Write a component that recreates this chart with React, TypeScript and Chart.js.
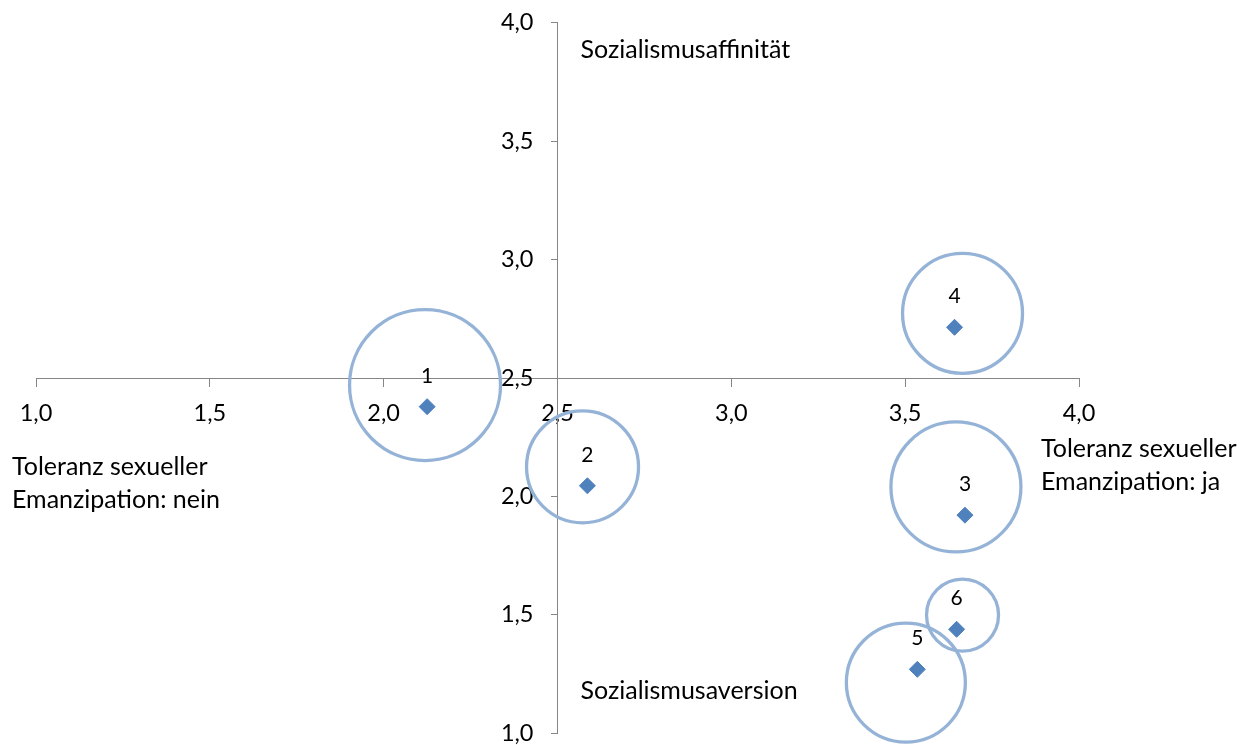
import React, { useEffect, useRef } from "react";
import { Chart, registerables } from "chart.js";

Chart.register(...registerables);

// ---- data ----
const groupLabels = ["1", "2", "3", "4", "5", "6"];
const meanX = [2.125, 2.586, 3.672, 3.642, 3.535, 3.648];
const meanY = [2.379, 2.045, 1.921, 2.714, 1.27, 1.439];
const circleX = [2.119, 2.572, 3.646, 3.665, 3.502, 3.665];
const circleY = [2.47, 2.125, 2.04, 2.773, 1.214, 1.499];
const circleRadius = [75.5, 56, 65, 60, 59.5, 36];

const xMin = 1.0;
const xMax = 4.0;
const yMin = 1.0;
const yMax = 4.0;
const tickStep = 0.5;
const axisCross = 2.5;

const topLabel = "Sozialismusaffinität";
const bottomLabel = "Sozialismusaversion";
const leftLabel = ["Toleranz sexueller", "Emanzipation: nein"];
const rightLabel = ["Toleranz sexueller", "Emanzipation: ja"];

const FONT = "Lato";
const fmt = (v: number) => Number(v).toFixed(1).replace(".", ",");

const Y_TICK_LEN = 6;
const Y_TICK_PAD = 18;

// shift the centred y-axis labels to the left of the axis line
const yLabelShiftPlugin = {
  id: "yLabelShift",
  beforeDraw(chart: any) {
    const s = chart.scales.y;
    const items = s.getLabelItems(chart.chartArea);
    if (!(items as any).__shifted) {
      items.forEach((it: any) => {
        it.options.translation[0] -= Y_TICK_LEN + Y_TICK_PAD;
      });
      (items as any).__shifted = true;
    }
  },
};

const annotationPlugin = {
  id: "annotations",
  afterDatasetsDraw(chart: any) {
    const ctx = chart.ctx;
    const xs = chart.scales.x;
    const area = chart.chartArea;
    ctx.save();
    ctx.fillStyle = "#000000";
    const meta = chart.getDatasetMeta(1);
    ctx.font = `21px ${FONT}`;
    ctx.textAlign = "center";
    ctx.textBaseline = "alphabetic";
    meta.data.forEach((pt: any, i: number) => {
      ctx.fillText(groupLabels[i], pt.x, pt.y - 24);
    });
    ctx.font = `25px ${FONT}`;
    ctx.textAlign = "left";
    const axisX = xs.getPixelForValue(axisCross);
    ctx.fillText(topLabel, axisX + 23, area.top + 35);
    ctx.fillText(bottomLabel, axisX + 23, area.bottom - 34);
    ctx.fillText(leftLabel[0], 12, 475);
    ctx.fillText(leftLabel[1], 12, 508);
    ctx.fillText(rightLabel[0], 1041, 457);
    ctx.fillText(rightLabel[1], 1041, 490);
    ctx.restore();
  },
};

export default function App() {
  const ref = useRef<HTMLCanvasElement | null>(null);
  useEffect(() => {
    if (!ref.current) return;
    const chart = new Chart(ref.current, {
      type: "bubble",
      data: {
        datasets: [
          {
            type: "bubble",
            data: circleX.map((x, i) => ({ x, y: circleY[i], r: circleRadius[i] })),
            backgroundColor: "rgba(0,0,0,0)",
            borderColor: "#95B3D7",
            borderWidth: 3.3,
            clip: false,
          } as any,
          {
            type: "scatter",
            data: meanX.map((x, i) => ({ x, y: meanY[i] })),
            pointStyle: "rectRot",
            pointRadius: 8,
            backgroundColor: "#4F81BD",
            borderColor: "#4F81BD",
            borderWidth: 1,
            clip: false,
          } as any,
        ],
      },
      options: {
        responsive: false,
        animation: false,
        devicePixelRatio: 1,
        layout: { autoPadding: false, padding: { left: 36, right: 180, top: 22.7, bottom: 11.7 } },
        plugins: { legend: { display: false }, tooltip: { enabled: false } },
        scales: {
          x: {
            type: "linear",
            position: { y: axisCross } as any,
            min: xMin,
            max: xMax,
            afterFit: (s: any) => {
              s.height = 0;
              s.paddingLeft = 0;
              s.paddingRight = 0;
              s.paddingTop = 0;
              s.paddingBottom = 0;
            },
            ticks: {
              stepSize: tickStep,
              color: "#000000",
              font: { family: FONT, size: 23.5 },
              padding: 13,
              callback: (v: any) => fmt(v),
              maxRotation: 0,
              autoSkip: false,
            },
            grid: { drawOnChartArea: false, drawTicks: true, tickLength: 8, color: "#868686" },
            border: { display: true, color: "#868686", width: 1 },
          },
          y: {
            type: "linear",
            position: { x: axisCross } as any,
            min: yMin,
            max: yMax,
            afterFit: (s: any) => {
              s.width = 0;
              s.paddingLeft = 0;
              s.paddingRight = 0;
              s.paddingTop = 0;
              s.paddingBottom = 0;
            },
            ticks: {
              stepSize: tickStep,
              color: "#000000",
              font: { family: FONT, size: 23.5 },
              padding: Y_TICK_PAD,
              callback: (v: any) => fmt(v),
              autoSkip: false,
            },
            grid: { drawOnChartArea: false, drawTicks: true, tickLength: Y_TICK_LEN, color: "#868686" },
            border: { display: true, color: "#868686", width: 1 },
          },
        },
      },
      plugins: [yLabelShiftPlugin, annotationPlugin],
    });
    return () => chart.destroy();
  }, []);
  return (
    <div style={{ position: "absolute", left: 0, top: 0, width: 1259, height: 745, background: "#fff" }}>
      <canvas ref={ref} width={1259} height={745} />
    </div>
  );
}
